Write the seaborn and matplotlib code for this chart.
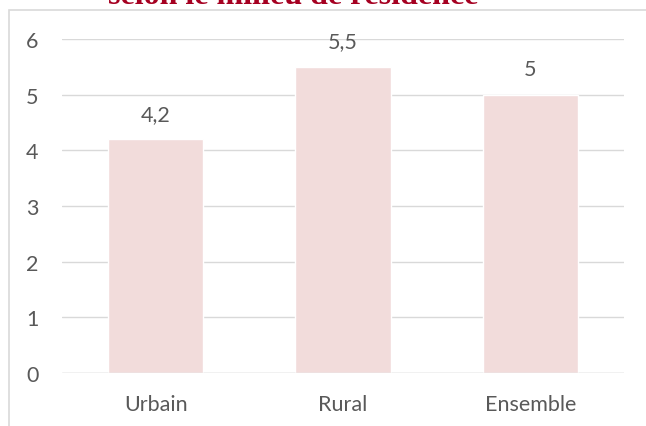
import matplotlib
matplotlib.use("Agg")
import matplotlib.pyplot as plt
import seaborn as sns
import pandas as pd
from matplotlib.patches import Rectangle

# data
categories = ["Urbain", "Rural", "Ensemble"]
values = [4.2, 5.5, 5.0]
value_labels = ["4,2", "5,5", "5"]
y_ticks = [0, 1, 2, 3, 4, 5, 6]

sns.set_theme(style="white")
plt.rcParams["font.family"] = ["Lato", "DejaVu Sans"]

text_grey = "#595959"
grid_grey = "#D9D9D9"
bar_pink = "#F2DCDB"

df = pd.DataFrame({"milieu": categories, "valeur": values})

fig = plt.figure(figsize=(6.46, 4.27), dpi=100)
ax = fig.add_axes([62 / 646, 1 - 374 / 427, 562 / 646, 334 / 427])

sns.barplot(data=df, x="milieu", y="valeur", color=bar_pink, saturation=1,
            width=0.51, ax=ax)

ax.set_ylim(0, 6)
ax.set_xlim(-0.5, 2.5)
ax.set_yticks(y_ticks)
ax.set_yticklabels([str(t) for t in y_ticks])
ax.yaxis.grid(True, color=grid_grey, linewidth=1)
ax.set_axisbelow(True)
for s in ["top", "right", "left", "bottom"]:
    ax.spines[s].set_visible(False)
ax.axhline(0, color=grid_grey, linewidth=1, zorder=3)
ax.tick_params(axis="both", length=0, labelsize=15.5, colors=text_grey)
ax.tick_params(axis="y", pad=17)
ax.tick_params(axis="x", pad=15)
ax.set_xlabel("")
ax.set_ylabel("")

for i, (v, lab) in enumerate(zip(values, value_labels)):
    ax.annotate(lab, (i, v), xytext=(0, 11), textcoords="offset points",
                ha="center", va="bottom", fontsize=15.5, color=text_grey)

# chart frame (cropped)
fig.patches.append(Rectangle((9 / 646, -0.1), 1.2, 1 - 11 / 427 + 0.1,
                             transform=fig.transFigure, fill=False,
                             edgecolor=grid_grey, linewidth=1.2))

# title cut at the top of the picture, as in the source
fig.text(293 / 646, 1 - 4 / 427, "selon le milieu de résidence",
         ha="center", va="baseline", fontsize=23, fontweight="bold",
         color="#A50021", family=["Liberation Serif", "DejaVu Serif"])

fig.savefig("out.png", dpi=100)
